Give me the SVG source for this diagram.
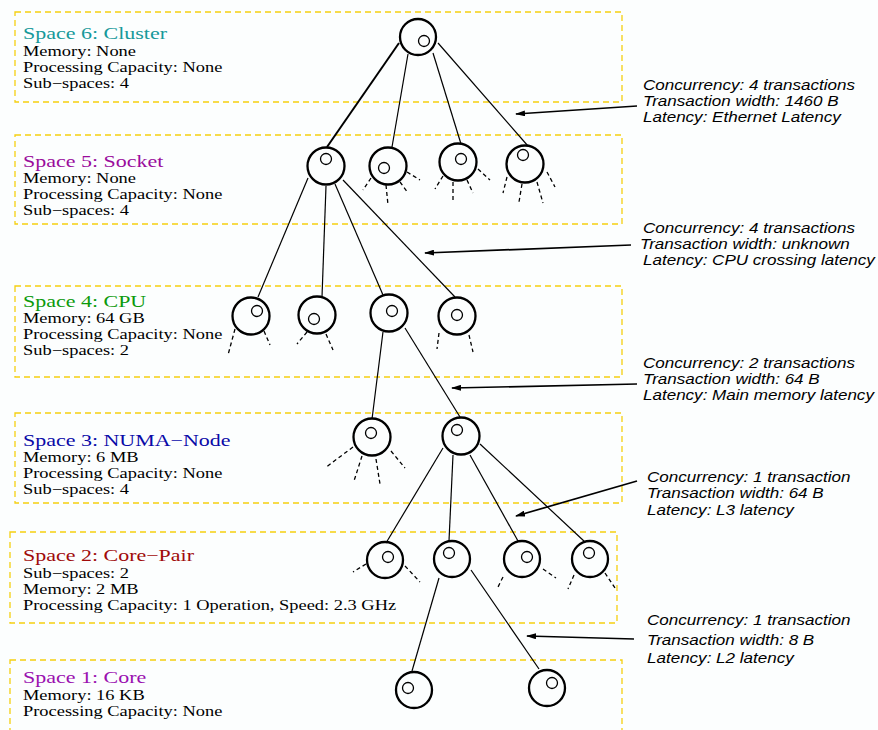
<svg xmlns="http://www.w3.org/2000/svg" width="878" height="730" viewBox="0 0 878 730">
<defs>
<style>
.box{fill:none;stroke:#f5cf10;stroke-width:1.3;stroke-dasharray:6 4}
.t{font-family:"Liberation Serif","Times New Roman",serif;font-size:17.3px}
.b{font-family:"Liberation Serif","Times New Roman",serif;font-size:14.5px;fill:#000}
.a{font-family:"Liberation Sans",Arial,sans-serif;font-style:italic;font-size:14.2px;fill:#000}
.n{fill:none;stroke:#000;stroke-width:2.3}
.i{fill:none;stroke:#000;stroke-width:1.3}
.e{stroke:#000;stroke-width:1.2;fill:none}
.s{stroke:#000;stroke-width:1.3;stroke-dasharray:4 3;fill:none}
.ar{stroke:#000;stroke-width:1.7;fill:none;marker-end:url(#ah)}
</style>
<marker id="ah" viewBox="0 0 10 6" refX="9" refY="3" markerWidth="10" markerHeight="6" markerUnits="userSpaceOnUse" orient="auto">
<path d="M0,0 L10,3 L0,6 Z" fill="#000"/>
</marker>
</defs>
<rect width="878" height="730" fill="#fcfefe"/>

<g id="space6">
<rect class="box" x="15" y="12" width="607" height="90"/>
<g transform="translate(23,0) scale(1.27,1)">
<text class="t" x="0" y="39" fill="#16999a">Space 6: Cluster</text>
<text class="b" x="0" y="56">Memory: None</text>
<text class="b" x="0" y="72">Processing Capacity: None</text>
<text class="b" x="0" y="88">Sub−spaces: 4</text>
</g>
</g>
<g id="space5">
<rect class="box" x="15" y="135" width="607" height="89"/>
<g transform="translate(23,0) scale(1.27,1)">
<text class="t" x="0" y="167" fill="#9a0c9c">Space 5: Socket</text>
<text class="b" x="0" y="183">Memory: None</text>
<text class="b" x="0" y="199">Processing Capacity: None</text>
<text class="b" x="0" y="215">Sub−spaces: 4</text>
</g>
</g>
<g id="space4">
<rect class="box" x="15" y="286" width="607" height="91"/>
<g transform="translate(23,0) scale(1.27,1)">
<text class="t" x="0" y="307" fill="#0c9a0c">Space 4: CPU</text>
<text class="b" x="0" y="323">Memory: 64 GB</text>
<text class="b" x="0" y="339">Processing Capacity: None</text>
<text class="b" x="0" y="355">Sub−spaces: 2</text>
</g>
</g>
<g id="space3">
<rect class="box" x="15" y="413" width="607" height="90"/>
<g transform="translate(23,0) scale(1.27,1)">
<text class="t" x="0" y="446" fill="#0a0aa8">Space 3: NUMA−Node</text>
<text class="b" x="0" y="462">Memory: 6 MB</text>
<text class="b" x="0" y="478">Processing Capacity: None</text>
<text class="b" x="0" y="494">Sub−spaces: 4</text>
</g>
</g>
<g id="space2">
<rect class="box" x="10" y="532" width="607" height="91"/>
<g transform="translate(23,0) scale(1.27,1)">
<text class="t" x="0" y="561" fill="#a00a0a">Space 2: Core−Pair</text>
<text class="b" x="0" y="578">Sub−spaces: 2</text>
<text class="b" x="0" y="594">Memory: 2 MB</text>
<text class="b" x="0" y="610">Processing Capacity: 1 Operation, Speed: 2.3 GHz</text>
</g>
</g>
<g id="space1">
<rect class="box" x="10" y="660" width="612" height="90"/>
<g transform="translate(23,0) scale(1.27,1)">
<text class="t" x="0" y="683" fill="#9a10b0">Space 1: Core</text>
<text class="b" x="0" y="700">Memory: 16 KB</text>
<text class="b" x="0" y="716">Processing Capacity: None</text>
</g>
</g>

<g id="connectors">
<line x1="399" y1="43" x2="327" y2="147" stroke="#000" stroke-width="2"/>
<line class="e" x1="408" y1="54" x2="392" y2="147"/>
<line class="e" x1="433" y1="53" x2="461" y2="144"/>
<line class="e" x1="438" y1="43" x2="528" y2="146"/>
<line class="e" x1="308" y1="178" x2="258" y2="297"/>
<line class="e" x1="326" y1="186" x2="322" y2="297"/>
<line class="e" x1="335" y1="184" x2="383" y2="295"/>
<line class="e" x1="343" y1="180" x2="455" y2="297"/>
<line class="e" x1="383" y1="332" x2="372" y2="419"/>
<line class="e" x1="405" y1="328" x2="460" y2="417"/>
<line class="e" x1="443" y1="448" x2="386" y2="543"/>
<line class="e" x1="453" y1="455" x2="449" y2="541"/>
<line class="e" x1="470" y1="455" x2="518" y2="541"/>
<line class="e" x1="480" y1="444" x2="585" y2="542"/>
<line class="e" x1="439" y1="578" x2="412" y2="671"/>
<line class="e" x1="471" y1="570" x2="539" y2="669"/>
<path class="s" d="M371,178L363,190M386,185L388,205M400,182L408,193M407,172L420,180"/>
<path class="s" d="M443,176L435,189M453,182L453,200M467,180L473,193M478,169L490,180"/>
<path class="s" d="M507,177L503,193M522,184L519,202M537,182L543,203M547,172L555,187"/>
<path class="s" d="M235,329L228,355M264,331L270,345"/>
<path class="s" d="M307,332L297,344M326,334L333,350"/>
<path class="s" d="M439,333L437,349M469,335L473,352"/>
<path class="s" d="M353,447L325,468M362,456L354,481M376,459L380,484M391,451L405,468"/>
<path class="s" d="M366,564L353,572M405,566L420,582"/>
<path class="s" d="M503,577L498,587M543,569L556,578"/>
<path class="s" d="M574,575L568,589M605,573L615,588"/>
<line class="ar" x1="637" y1="106" x2="516" y2="114"/>
<line class="ar" x1="631" y1="245" x2="425" y2="253"/>
<line class="ar" x1="637" y1="384" x2="452" y2="388"/>
<line class="ar" x1="637" y1="481" x2="516" y2="516"/>
<line class="ar" x1="634" y1="639" x2="527" y2="636"/>
</g>

<g id="n6"><circle class="n" cx="418" cy="37" r="18"/><circle class="i" cx="424" cy="41" r="5.5"/></g>
<g id="n5a"><circle class="n" cx="326" cy="166" r="18.5"/><circle class="i" cx="326" cy="159" r="5.5"/></g>
<g id="n5b"><circle class="n" cx="388" cy="166" r="18.5"/><circle class="i" cx="384" cy="168" r="5.5"/></g>
<g id="n5c"><circle class="n" cx="458" cy="162" r="18.5"/><circle class="i" cx="461" cy="159" r="5.5"/></g>
<g id="n5d"><circle class="n" cx="525" cy="164" r="18.5"/><circle class="i" cx="523" cy="155" r="5.5"/></g>
<g id="n4a"><circle class="n" cx="251" cy="316" r="18.5"/><circle class="i" cx="257" cy="311" r="5.5"/></g>
<g id="n4b"><circle class="n" cx="317" cy="315" r="18.5"/><circle class="i" cx="314" cy="319" r="5.5"/></g>
<g id="n4c"><circle class="n" cx="389" cy="313" r="18.5"/><circle class="i" cx="392" cy="311" r="5.5"/></g>
<g id="n4d"><circle class="n" cx="457" cy="316" r="18.5"/><circle class="i" cx="457" cy="315" r="5.5"/></g>
<g id="n3a"><circle class="n" cx="372" cy="437" r="18.5"/><circle class="i" cx="371" cy="433" r="5.5"/></g>
<g id="n3b"><circle class="n" cx="461" cy="436" r="18.5"/><circle class="i" cx="457" cy="430" r="5.5"/></g>
<g id="n2a"><circle class="n" cx="385" cy="560" r="18"/><circle class="i" cx="388" cy="557" r="5.5"/></g>
<g id="n2b"><circle class="n" cx="452" cy="559" r="18"/><circle class="i" cx="449" cy="553" r="5.5"/></g>
<g id="n2c"><circle class="n" cx="522" cy="559" r="18"/><circle class="i" cx="527" cy="557" r="5.5"/></g>
<g id="n2d"><circle class="n" cx="590" cy="559" r="18"/><circle class="i" cx="589" cy="553" r="5.5"/></g>
<g id="n1a"><circle class="n" cx="414" cy="690" r="18"/><circle class="i" cx="408" cy="688" r="5.5"/></g>
<g id="n1b"><circle class="n" cx="547" cy="688" r="18"/><circle class="i" cx="552" cy="683" r="5.5"/></g>

<g id="notes">
<g transform="translate(643,0) scale(1.2,1)">
<text class="a" x="0" y="90">Concurrency: 4 transactions</text>
<text class="a" x="0" y="106">Transaction width: 1460 B</text>
<text class="a" x="0" y="122">Latency: Ethernet Latency</text>
<text class="a" x="0" y="233">Concurrency: 4 transactions</text>
<text class="a" x="-2.5" y="249">Transaction width: unknown</text>
<text class="a" x="0" y="265">Latency: CPU crossing latency</text>
<text class="a" x="0" y="368">Concurrency: 2 transactions</text>
<text class="a" x="0" y="384">Transaction width: 64 B</text>
<text class="a" x="0" y="400">Latency: Main memory latency</text>
</g>
<g transform="translate(647,0) scale(1.2,1)">
<text class="a" x="0" y="482">Concurrency: 1 transaction</text>
<text class="a" x="0" y="498">Transaction width: 64 B</text>
<text class="a" x="0" y="515">Latency: L3 latency</text>
<text class="a" x="0" y="625">Concurrency: 1 transaction</text>
<text class="a" x="0" y="645">Transaction width: 8 B</text>
<text class="a" x="0" y="663">Latency: L2 latency</text>
</g>
</g>
</svg>
